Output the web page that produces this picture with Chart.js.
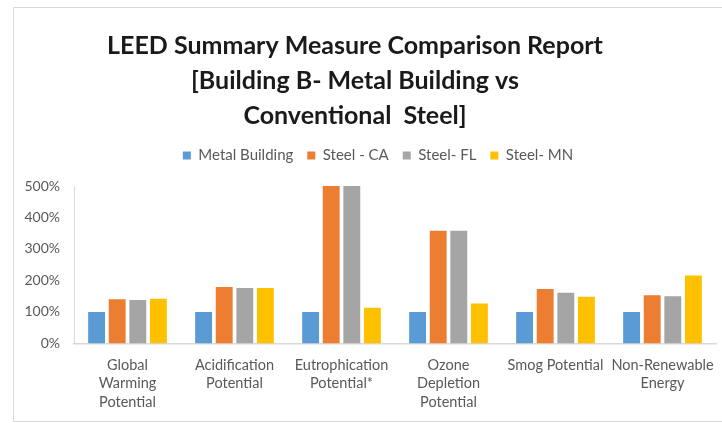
<!DOCTYPE html>
<html>
<head>
<meta charset="utf-8">
<script src="https://cdn.jsdelivr.net/npm/chart.js@4/dist/chart.umd.min.js"></script>
<style>
    html, body { margin: 0; padding: 0; background: #fff; overflow: hidden; }
    #frame {
        position: absolute;
        left: 13px;
        top: 7px;
        width: 728px;
        height: 413px;
        border: 1px solid #d9d9d9;
    }
</style>
</head>
<body>
<div id="frame"><canvas id="leedChart"></canvas></div>
<script>
    // Impact categories (multi-line labels)
    const categories = [
        ['Global', 'Warming', 'Potential'],
        ['Acidification', 'Potential'],
        ['Eutrophication', 'Potential*'],
        ['Ozone', 'Depletion', 'Potential'],
        'Smog Potential',
        ['Non-Renewable', 'Energy']
    ];

    // Percent of the metal building baseline
    const metalBuilding = [100, 100, 100, 100, 100, 100];
    const steelCA = [140, 179, 500, 358, 173, 153];
    const steelFL = [138, 176, 500, 358, 161, 150];
    const steelMN = [142, 176, 113, 127, 148, 216];

    const yTicks = [0, 100, 200, 300, 400, 500];

    const titleLines = [
        'LEED Summary Measure Comparison Report',
        '[Building B- Metal Building vs',
        'Conventional  Steel]'
    ];

    const textColor = '#595959';
    const lineColor = '#d9d9d9';

    // Title sits a little left of centre, legend a little right and tucked up
    const blockShift = {
        id: 'blockShift',
        afterLayout: function(chart) {
            const t = chart.titleBlock;
            if (t) {
                t.left -= 10;
                t.right -= 10;
            }
            const l = chart.legend;
            if (l) {
                l.left += 13;
                l.right += 13;
                l.top -= 13;
                l.bottom -= 13;
            }
        }
    };

    function makeSet(label, data, color) {
        return {
            label: label,
            data: data,
            backgroundColor: color,
            borderWidth: 0,
            categoryPercentage: 0.77,
            barPercentage: 0.82
        };
    }

    const ctx = document.getElementById('leedChart').getContext('2d');
    new Chart(ctx, {
        type: 'bar',
        data: {
            labels: categories,
            datasets: [
                makeSet('Metal Building', metalBuilding, '#5b9bd5'),
                makeSet('Steel - CA', steelCA, '#ed7d31'),
                makeSet('Steel- FL', steelFL, '#a5a5a5'),
                makeSet('Steel- MN', steelMN, '#ffc000')
            ]
        },
        options: {
            responsive: true,
            maintainAspectRatio: false,
            animation: false,
            layout: {
                padding: { left: 0, right: 26, top: 0, bottom: 8 }
            },
            plugins: {
                title: {
                    display: true,
                    text: titleLines,
                    color: '#1a1a1a',
                    font: { family: 'Lato', size: 25, weight: 'bold', lineHeight: 1.4 },
                    padding: { top: 20, bottom: 14 }
                },
                legend: {
                    display: true,
                    position: 'top',
                    labels: {
                        color: textColor,
                        font: { family: 'Lato', size: 15 },
                        boxWidth: 8,
                        boxHeight: 8,
                        padding: 14
                    }
                },
                tooltip: { enabled: false }
            },
            scales: {
                x: {
                    afterFit: function(scale) {
                        scale.height -= 11;
                    },
                    grid: { display: false, drawTicks: false },
                    border: { display: true, color: lineColor, width: 1.5 },
                    ticks: {
                        color: textColor,
                        font: { family: 'Lato', size: 14.5, lineHeight: 1.3 },
                        padding: 12,
                        maxRotation: 0,
                        autoSkip: false
                    }
                },
                y: {
                    min: 0,
                    max: 500,
                    afterFit: function(scale) {
                        scale.width = 60;
                    },
                    afterBuildTicks: function(scale) {
                        scale.ticks = yTicks.map(function(v) { return { value: v }; });
                    },
                    grid: { display: false, drawTicks: false },
                    border: { display: true, color: lineColor, width: 1 },
                    ticks: {
                        color: textColor,
                        font: { family: 'Lato', size: 14 },
                        padding: 14,
                        callback: function(value) {
                            return value + '%';
                        }
                    }
                }
            }
        },
        plugins: [blockShift]
    });
</script>
</body>
</html>
